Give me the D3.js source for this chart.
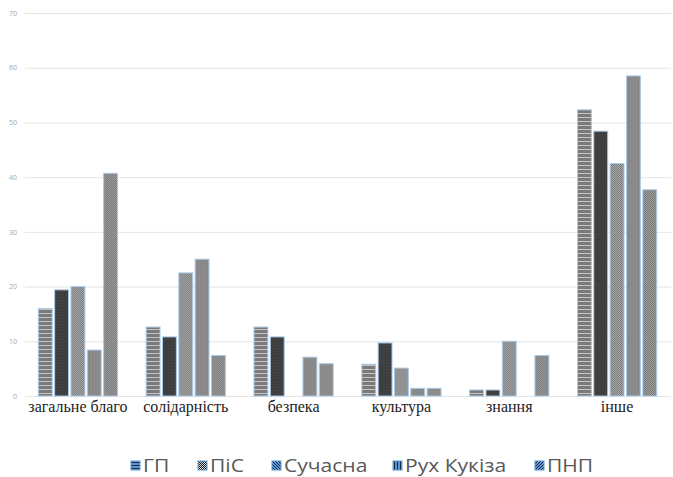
<!DOCTYPE html>
<html><head><meta charset="utf-8">
<script src="https://cdn.jsdelivr.net/npm/d3@7"></script>
<style>html,body{margin:0;padding:0;background:#fff;}</style>
</head><body>
<svg id="chart" width="673" height="477"></svg>
<script>
const categories = ["загальне благо","солідарність","безпека","культура","знання","інше"];
const seriesNames = ["ГП","ПіС","Сучасна","Рух Кукіза","ПНП"];
const gp      = [16.0, 12.6, 12.6, 5.8, 1.1, 52.3];
const pis     = [19.4, 10.8, 10.8, 9.7, 1.1, 48.4];
const suchasna= [20.0, 22.5, 0,    5.1, 10.0, 42.5];
const rukh    = [8.4,  25.0, 7.1,  1.4, 0,    58.5];
const pnp     = [40.7, 7.4,  5.9,  1.4, 7.4,  37.7];
const yTicks  = [0,10,20,30,40,50,60,70];

const seriesValues = [gp, pis, suchasna, rukh, pnp];
const svg = d3.select("#chart");
const defs = svg.append("defs");

function pat(id, w, h, bg, rects){
  const p = defs.append("pattern").attr("id",id).attr("patternUnits","userSpaceOnUse").attr("width",w).attr("height",h);
  p.append("rect").attr("width",w).attr("height",h).attr("fill",bg);
  rects.forEach(r => p.append("rect").attr("x",r[0]).attr("y",r[1]).attr("width",r[2]).attr("height",r[3]).attr("fill",r[4]));
}
// bar patterns
pat("pGP",4,4,"#7a7a7a",[[0,1,4,1,"#c4c4c4"]]);
pat("pPiS",3,3,"#3e3e3e",[[0,0,1,1,"#4a4a4a"]]);
pat("pSuc",2,2,"#7c7c7c",[[0,0,1,1,"#a8a8a8"],[1,1,1,1,"#a8a8a8"]]);
pat("pRukh",3,3,"#878787",[[1,0,1,3,"#8f8f8f"]]);
pat("pPNP",2,2,"#767676",[[0,0,1,1,"#a0a0a0"],[1,1,1,1,"#a0a0a0"]]);
// legend patterns
pat("lGP",3,3,"#5f93d4",[[0,1,3,1,"#1d2a40"]]);
pat("lPiS",2,2,"#e0e0e0",[[0,0,1,1,"#111"],[1,1,1,1,"#111"]]);
pat("lSuc",3,3,"#5f93d4",[[0,0,1,1,"#1d2a40"],[1,1,1,1,"#1d2a40"],[2,2,1,1,"#1d2a40"]]);
pat("lRukh",3,3,"#5f93d4",[[1,0,1,3,"#1d2a40"]]);
pat("lPNP",3,3,"#5f93d4",[[2,0,1,1,"#1d2a40"],[1,1,1,1,"#1d2a40"],[0,2,1,1,"#1d2a40"]]);

const fills = ["url(#pGP)","url(#pPiS)","url(#pSuc)","url(#pRukh)","url(#pPNP)"];
const lfills = ["url(#lGP)","url(#lPiS)","url(#lSuc)","url(#lRukh)","url(#lPNP)"];

const y = d3.scaleLinear().domain([0,70]).range([396,13]);
const x0 = d3.scaleBand().domain(categories).range([24,671]).paddingInner(0.22).paddingOuter(0.11);
const x1 = d3.scaleBand().domain(seriesNames).range([0,x0.bandwidth()]).padding(0.15);

// gridlines
const yAxis = d3.axisLeft(y).tickValues(yTicks).tickSize(-(671-25)).tickPadding(8);
const gy = svg.append("g").attr("transform","translate(25,0)").call(yAxis);
gy.select(".domain").remove();
gy.selectAll(".tick line").attr("stroke","#e4e4e4").attr("stroke-width",1);
gy.selectAll(".tick text").attr("fill","#a8a8a8").attr("font-family","Open Sans, sans-serif").attr("font-size",7);

// bars
const groups = svg.append("g").selectAll("g").data(categories).join("g")
  .attr("transform", c => `translate(${x0(c)},0)`);
groups.selectAll("rect").data((c,i) => seriesNames.map((s,j) => ({s, j, v: seriesValues[j][i]})))
  .join("rect")
  .filter(d => d.v > 0)
  .attr("x", d => x1(d.s))
  .attr("y", d => y(d.v))
  .attr("width", x1.bandwidth())
  .attr("height", d => y(0) - y(d.v))
  .attr("fill", d => fills[d.j])
  .attr("stroke", "#a9c9e8")
  .attr("stroke-width", 1);

// category labels
const xAxis = d3.axisBottom(x0).tickSize(0).tickPadding(0);
const gx = svg.append("g").attr("transform","translate(0,400)").call(xAxis);
gx.select(".domain").remove();
gx.selectAll(".tick text").attr("fill","#222").attr("font-family","Liberation Serif, serif").attr("font-size",16).attr("dy","0.75em");

// legend
const legendX = [131, 198, 272, 393, 535];
const lg = svg.append("g").selectAll("g").data(seriesNames).join("g")
  .attr("transform",(d,i)=>`translate(${legendX[i]},461)`);
lg.append("rect").attr("width",9).attr("height",9).attr("fill",(d,i)=>lfills[i]).attr("stroke","#5b9bd5").attr("stroke-width",1);
lg.append("text").attr("transform","translate(12,4.5) scale(1.17,1)").attr("dy","0.36em").text(d=>d)
  .attr("fill","#595959").attr("font-family","Open Sans, sans-serif").attr("font-size",18);
</script>
</body></html>
